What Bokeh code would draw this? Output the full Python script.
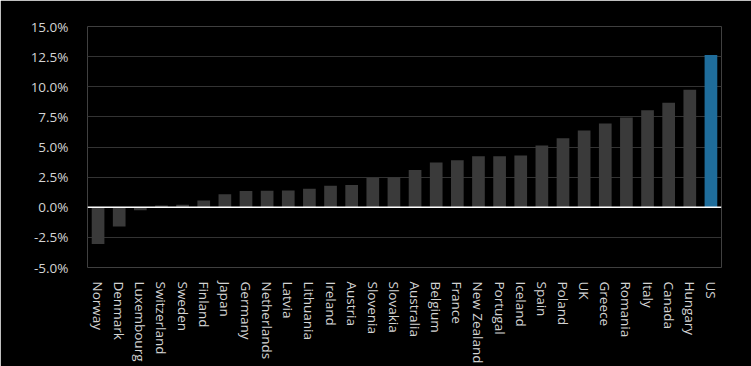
from bokeh.plotting import figure
from bokeh.models import ColumnDataSource, Span, Range1d, FixedTicker, CustomJSTickFormatter
from bokeh.embed import file_html
from bokeh.resources import INLINE

countries = ["Norway", "Denmark", "Luxembourg", "Switzerland", "Sweden", "Finland", "Japan",
             "Germany", "Netherlands", "Latvia", "Lithuania", "Ireland", "Austria", "Slovenia",
             "Slovakia", "Australia", "Belgium", "France", "New Zealand", "Portugal", "Iceland",
             "Spain", "Poland", "UK", "Greece", "Romania", "Italy", "Canada", "Hungary", "US"]
values = [-3.05, -1.6, -0.25, 0.15, 0.2, 0.55, 1.07, 1.35, 1.37, 1.4, 1.54, 1.79, 1.84, 2.42,
          2.5, 3.1, 3.72, 3.91, 4.24, 4.24, 4.3, 5.12, 5.73, 6.36, 6.96, 7.44, 8.04, 8.68, 9.75, 12.64]
colors = ["#3a3a3a"] * (len(countries) - 1) + ["#1f6d9b"]
y_ticks = [-5.0, -2.5, 0.0, 2.5, 5.0, 7.5, 10.0, 12.5, 15.0]

src = ColumnDataSource(dict(x=countries, top=values, color=colors))

p = figure(x_range=countries, y_range=Range1d(-5, 15), width=751, height=366,
           output_backend="svg", toolbar_location=None,
           min_border_left=87, min_border_right=30, min_border_top=26, min_border_bottom=40)
p.background_fill_color = "black"
p.border_fill_color = "black"
p.outline_line_color = None

p.vbar(x="x", top="top", bottom=0, width=0.6, fill_color="color", line_color=None, source=src)
p.add_layout(Span(location=0, dimension="width", line_color="white", line_width=1.5))

p.xgrid.grid_line_color = None
p.ygrid.grid_line_color = "#333333"
p.ygrid.grid_line_width = 1

p.yaxis.ticker = FixedTicker(ticks=y_ticks)
p.yaxis.formatter = CustomJSTickFormatter(code="return tick.toFixed(1) + '%';")
for ax in (p.xaxis, p.yaxis):
    ax.axis_line_color = None
    ax.major_tick_line_color = None
    ax.minor_tick_line_color = None
    ax.major_label_text_font = "Open Sans"
    ax.major_label_text_font_size = "13.5px"
    ax.major_label_text_color = "#d4d4d4"
p.yaxis.major_label_standoff = 13
p.xaxis.major_label_standoff = 8
p.xaxis.major_label_orientation = "vertical"

html = file_html(p, INLINE)
html = html.replace(
    "<body>",
    '<body style="background:#000000;"><style>html{background:#000000;} '
    'svg rect{shape-rendering:crispEdges;}</style>', 1)
open("out.html", "w").write(html)
